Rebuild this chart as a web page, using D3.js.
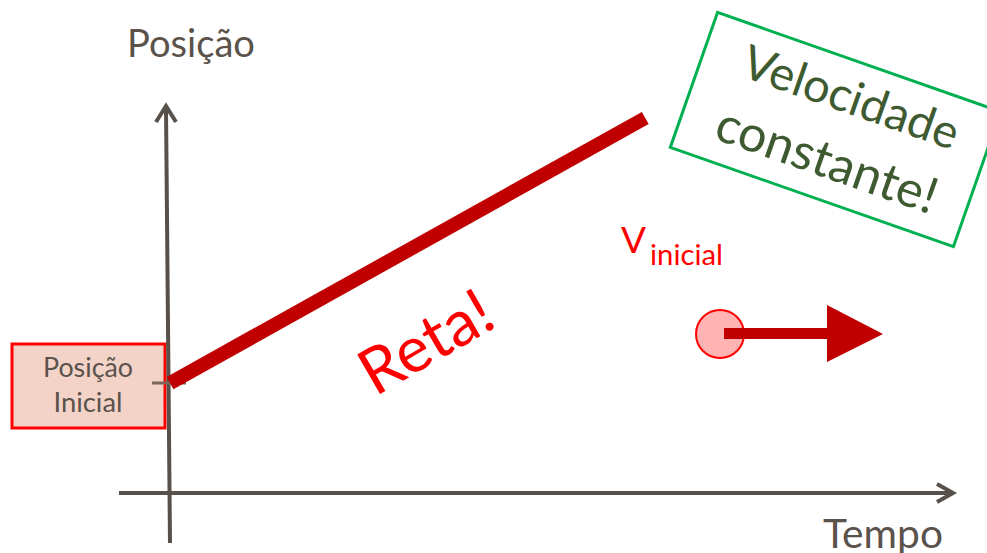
<!DOCTYPE html>
<html>
<head>
<meta charset="utf-8">
<script src="https://cdn.jsdelivr.net/npm/d3@7"></script>
<style>
  html, body { margin: 0; padding: 0; background: #ffffff; }
  svg { display: block; }
  text { font-family: Lato, "Open Sans", sans-serif; }
</style>
</head>
<body>
<svg id="chart" width="987" height="553"></svg>
<script>
// ---- data ----
const timeDomain = [0, 10];
const posDomain = [0, 10];
const lineTime = [0, 6.07];
const linePos = [2.84, 9.69];
const initialPos = 2.84;
const axisLabels = ["Posição", "Tempo"];
const initialLabel = ["Posição", "Inicial"];
const noteLines = ["Velocidade", "constante!"];
const shapeNote = "Reta!";
const velocityLabel = ["V", "inicial"];

// ---- layout ----
const svg = d3.select("#chart");
const x = d3.scaleLinear().domain(timeDomain).range([170, 953]);
const y = d3.scaleLinear().domain(posDomain).range([493, 106]);

const axisColor = "#58504a";
const textGray = "#5a524b";

// fit text width helper
function fit(sel, target) {
  sel.style("font-size", "100px");
  const w = sel.node().getComputedTextLength();
  sel.style("font-size", (100 * target / w) + "px");
  return sel;
}

// Initial position box
svg.append("rect")
  .attr("x", 12).attr("y", 344).attr("width", 153).attr("height", 84)
  .attr("fill", "#f3d3c8").attr("stroke", "#ff0000").attr("stroke-width", 3);
fit(svg.append("text").attr("x", 88).attr("y", 377).attr("text-anchor", "middle")
  .attr("fill", textGray).text(initialLabel[0]), 90);
fit(svg.append("text").attr("x", 88).attr("y", 412).attr("text-anchor", "middle")
  .attr("fill", textGray).text(initialLabel[1]), 69);

// axes
const g = svg.append("g").attr("stroke", axisColor).attr("stroke-width", 4)
  .attr("fill", "none").attr("stroke-linecap", "butt").attr("stroke-linejoin", "miter");
// y axis (slightly tilted as in original)
g.append("line").attr("x1", x(0) - 4).attr("y1", y(posDomain[1]) + 2)
  .attr("x2", x(0)).attr("y2", 543);
g.append("path").attr("d", `M${x(0) - 14},${y(posDomain[1]) + 16} L${x(0) - 4},${y(posDomain[1])} L${x(0) + 6},${y(posDomain[1]) + 16}`);
// x axis
g.append("line").attr("x1", 119).attr("y1", y(0)).attr("x2", x(timeDomain[1]) - 2).attr("y2", y(0));
g.append("path").attr("d", `M${x(timeDomain[1]) - 16},${y(0) - 9} L${x(timeDomain[1])},${y(0)} L${x(timeDomain[1]) - 16},${y(0) + 9}`);

// tick at initial position
svg.append("line").attr("x1", 152).attr("x2", 186)
  .attr("y1", y(initialPos)).attr("y2", y(initialPos))
  .attr("stroke", "#7d675a").attr("stroke-width", 3);

// the straight line
const lineData = lineTime.map((t, i) => [t, linePos[i]]);
svg.append("path").datum(lineData)
  .attr("d", d3.line().x(d => x(d[0])).y(d => y(d[1])))
  .attr("stroke", "#c00000").attr("stroke-width", 14).attr("fill", "none")
  .attr("stroke-linecap", "butt");

// axis titles
fit(svg.append("text").attr("x", 127).attr("y", 57).attr("fill", textGray).text(axisLabels[0]), 128);
fit(svg.append("text").attr("x", 823).attr("y", 548).attr("fill", textGray).text(axisLabels[1]), 120);

// Reta!
fit(svg.append("text").attr("transform", "translate(375,397) rotate(-30)")
  .attr("fill", "#ff0000").text(shapeNote), 143);

// Green note box
const note = svg.append("g").attr("transform", "translate(835.5,129.5) rotate(19.3)");
note.append("rect").attr("x", -150).attr("y", -71.5).attr("width", 300).attr("height", 143)
  .attr("fill", "#ffffff").attr("stroke", "#00b050").attr("stroke-width", 3);
fit(note.append("text").attr("x", 4).attr("y", -19).attr("text-anchor", "middle")
  .attr("fill", "#3e5a30").text(noteLines[0]), 226);
fit(note.append("text").attr("x", 2).attr("y", 49).attr("text-anchor", "middle")
  .attr("fill", "#3e5a30").text(noteLines[1]), 231);

// V inicial
fit(svg.append("text").attr("x", 621).attr("y", 253).attr("fill", "#ff0000").text(velocityLabel[0]), 25);
fit(svg.append("text").attr("x", 650).attr("y", 265).attr("fill", "#ff0000").text(velocityLabel[1]), 73);

// ball and velocity arrow
svg.append("circle").attr("cx", 720).attr("cy", 334).attr("r", 24)
  .attr("fill", "#ffb3b3").attr("stroke", "#ff0000").attr("stroke-width", 2);
svg.append("rect").attr("x", 724).attr("y", 328).attr("width", 105).attr("height", 11)
  .attr("fill", "#c00000");
svg.append("path").attr("d", "M827,305 L883,334 L827,362 Z").attr("fill", "#c00000");
</script>
</body>
</html>
